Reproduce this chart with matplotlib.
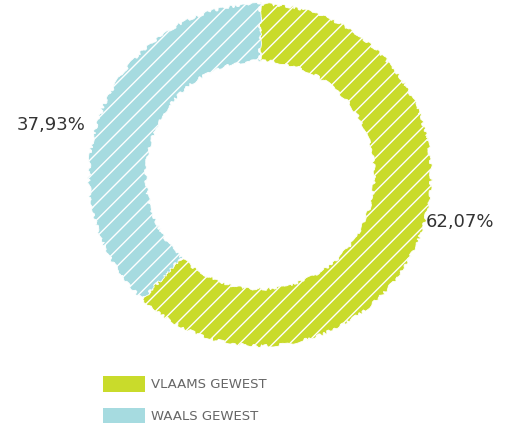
import matplotlib
matplotlib.use("Agg")
import matplotlib.pyplot as plt
from matplotlib.patches import Patch

categories = ["VLAAMS GEWEST", "WAALS GEWEST"]
values = [62.07, 37.93]
value_labels = ["62,07%", "37,93%"]
colors = ["#C9DB2B", "#A6DBE0"]

fig = plt.figure(figsize=(5.06, 4.30), dpi=100)
ax = fig.add_axes([0, 0, 1, 1])

wedges, _ = ax.pie(values, colors=colors, startangle=90, counterclock=False,
                   center=(260, 255), radius=171,
                   wedgeprops=dict(width=57, edgecolor="white", linewidth=0.6, hatch="//"),
                   frame=True)
for w in wedges:
    w.set_sketch_params(scale=1.5, length=25, randomness=15)
ax.set_xlim(0, 506)
ax.set_ylim(0, 430)
ax.set_aspect("equal")
ax.axis("off")

font = ["DejaVu Sans"]
ax.text(460, 208, value_labels[0], ha="center", va="center", fontsize=13,
        color="#333333", family=font)
ax.text(51, 305, value_labels[1], ha="center", va="center", fontsize=13,
        color="#333333", family=font)

handles = [Patch(facecolor=c, edgecolor="none") for c in colors]
leg = ax.legend(handles, categories, loc="upper left", bbox_to_anchor=(98/506, 1 - 371/430),
                frameon=False, handlelength=3.2, handleheight=1.4, labelspacing=1.25,
                handletextpad=0.4, borderpad=0.4, borderaxespad=0,
                prop=dict(family=font, size=9.5))
for t in leg.get_texts():
    t.set_color("#666666")

fig.savefig("out.png", dpi=100)
